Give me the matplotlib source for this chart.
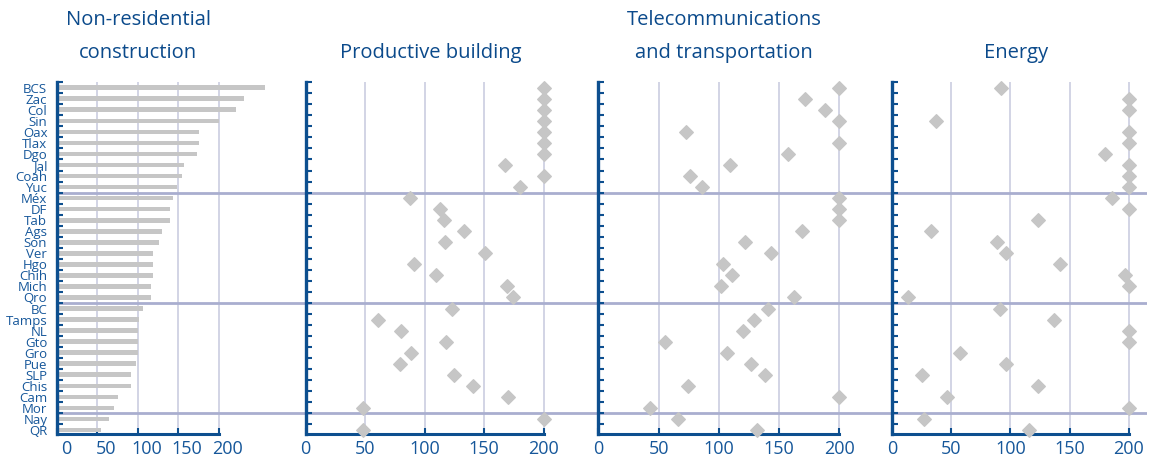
import matplotlib.pyplot as plt
from matplotlib.transforms import ScaledTranslation

# state labels, top to bottom
states = ['BCS', 'Zac', 'Col', 'Sin', 'Oax', 'Tlax', 'Dgo', 'Jal', 'Coah', 'Yuc',
          'Méx', 'DF', 'Tab', 'Ags', 'Son', 'Ver', 'Hgo', 'Chih', 'Mich', 'Qro',
          'BC', 'Tamps', 'NL', 'Gto', 'Gro', 'Pue', 'SLP', 'Chis', 'Cam', 'Mor',
          'Nay', 'QR']

non_residential = [258, 232, 222, 200, 176, 176, 173, 157, 155, 148,
                   144, 140, 140, 130, 126, 119, 119, 119, 117, 117,
                   106, 101, 100, 100, 100, 98, 92, 92, 75, 71,
                   64, 55]
productive = [200, 200, 200, 200, 200, 200, 200, 168, 200, 180,
              88, 113, 116, 133, 117, 151, 91, 110, 169, 174,
              123, 61, 80, 118, 89, 79, 125, 141, 170, 48,
              200, 48]
telecom = [200, 171, 188, 200, 73, 200, 157, 109, 76, 86,
           200, 200, 200, 169, 122, 143, 103, 111, 102, 162,
           141, 129, 120, 55, 107, 127, 138, 74, 200, 43,
           66, 132]
energy = [92, 200, 200, 37, 200, 200, 180, 200, 200, 200,
          186, 200, 123, 33, 89, 96, 142, 197, 200, 13,
          91, 137, 200, 200, 57, 96, 25, 123, 46, 200,
          27, 116]

group_breaks = [9.5, 19.5, 29.5]
xticks = [0, 50, 100, 150, 200]

W, H = 1149, 463
NAVY = '#0d4f8f'
TITLE = '#0b4a8b'
LABEL = '#16579a'
GRID = '#c6c9de'
SEP = '#a9aecf'
GREY = '#c6c6c6'

plt.rcParams['font.family'] = ['Open Sans', 'DejaVu Sans']

fig = plt.figure(figsize=(W / 100, H / 100), dpi=100)

# panel pixel edges (left spine, right edge) and x-limits
panels = [(57, 305.5, 307.7), (305.5, 598.3, 246), (598.3, 892.3, 243.8), (892.3, 1147, 215.5)]
top_px, bot_px = 82.2, 434.4
axes = []
for left, right, xmax in panels:
    ax = fig.add_axes([left / W, (H - bot_px) / H, (right - left) / W, (bot_px - top_px) / H])
    ax.set_xlim(0, xmax)
    ax.set_ylim(31.4, -0.5)
    axes.append(ax)

rows = list(range(len(states)))

for i, ax in enumerate(axes):
    for x in xticks[1:]:
        ax.axvline(x, color=GRID, lw=1.1, zorder=0)
    for y in group_breaks:
        ax.axhline(y, color=SEP, lw=2, zorder=1)
    for s in ['top', 'right']:
        ax.spines[s].set_visible(False)
    ax.spines['left'].set_color(NAVY)
    ax.spines['left'].set_linewidth(2.4)
    ax.spines['left'].set_zorder(5)
    ax.spines['bottom'].set_color(NAVY)
    ax.spines['bottom'].set_linewidth(2.2)
    ax.spines['bottom'].set_bounds(0, 200)
    ax.set_xticks(xticks)
    ax.set_xticklabels([str(t) for t in xticks])
    ax.tick_params(axis='x', direction='in', length=4, width=1.5, color=NAVY,
                   labelsize=13, labelcolor=LABEL, pad=4)
    ax.set_yticks([r + 0.5 for r in rows[:-1]] + [-0.5], minor=True)
    ax.tick_params(axis='y', which='minor', direction='in', length=4, width=1.5, color=NAVY)
    ax.set_yticks(rows)
    if i == 0:
        ax.set_yticklabels(states)
    else:
        ax.set_yticklabels([])
    ax.tick_params(axis='y', which='major', length=0, labelsize=9.5, labelcolor=LABEL, pad=7)

axes[0].barh(rows, non_residential, height=0.42, color=GREY, zorder=2)
for ax, vals in zip(axes[1:], [productive, telecom, energy]):
    ax.scatter(vals, rows, marker='D', s=48, color=GREY, zorder=3, clip_on=False)

# first panel's value labels sit a little to the right of the ticks
offset = ScaledTranslation(9 / 100, 0, fig.dpi_scale_trans)
for lbl in axes[0].get_xticklabels():
    lbl.set_transform(lbl.get_transform() + offset)

titles = [(138, ['Non-residential', 'construction']),
          (431, ['Productive building']),
          (724, ['Telecommunications', 'and transportation']),
          (1016, ['Energy'])]
for x, lines in titles:
    ys = [20, 53] if len(lines) == 2 else [53]
    for y, t in zip(ys, lines):
        fig.text(x / W, 1 - y / H, t, ha='center', va='center', fontsize=14.5, color=TITLE)

fig.savefig('out.png', dpi=100)
